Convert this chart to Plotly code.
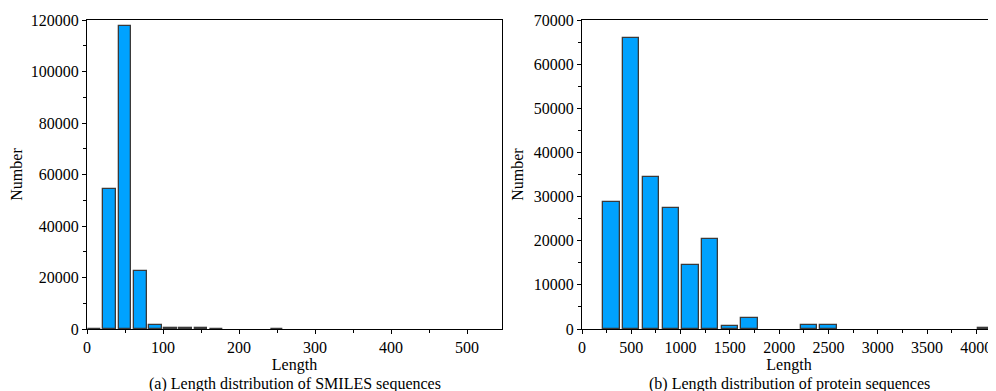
import plotly.graph_objects as go

# SMILES length distribution (bin width 20)
smiles_bins = [10, 30, 50, 70, 90, 110, 130, 150, 170, 250]
smiles_counts = [150, 54300, 117500, 22500, 1500, 400, 250, 200, 150, 60]

# Protein length distribution (bin width 200)
protein_bins = [300, 500, 700, 900, 1100, 1300, 1500, 1700, 2300, 2500, 4100]
protein_counts = [28700, 66000, 34500, 27400, 14500, 20400, 600, 2400, 900, 900, 300]

left_ticks = [0, 100, 200, 300, 400, 500]
right_ticks = [0, 500, 1000, 1500, 2000, 2500, 3000, 3500, 4000]

FILL = "#00A2FF"
EDGE = "#3a3a3a"
FONT = "'Liberation Serif', 'Times New Roman', Times, serif"

fig = go.Figure()
fig.add_trace(go.Bar(x=smiles_bins, y=smiles_counts, width=17,
                     marker=dict(color=FILL, line=dict(color=EDGE, width=1.3)),
                     xaxis="x", yaxis="y", showlegend=False))
fig.add_trace(go.Bar(x=protein_bins, y=protein_counts, width=165,
                     marker=dict(color=FILL, line=dict(color=EDGE, width=1.3)),
                     xaxis="x2", yaxis="y2", showlegend=False))

# page body has an 8px margin, so the figure is drawn 8px smaller and offset
W, H = 988, 383
OFF = 8
L1, R1 = 87 - OFF, 502 - OFF
L2, R2 = 582 - OFF, 996 - OFF

axis_common = dict(showline=True, linecolor="black", linewidth=1, ticks="outside",
                   ticklen=4, tickcolor="black", showgrid=False, zeroline=False,
                   automargin=False, ticklabeloverflow="allow",
                   tickfont=dict(family=FONT, size=16, color="black"))

fig.update_layout(
    width=W, height=H,
    margin=dict(l=0, r=0, t=12, b=62, autoexpand=False),
    plot_bgcolor="white", paper_bgcolor="white",
    font=dict(family=FONT, size=16, color="black"),
    bargap=0,
    xaxis=dict(domain=[L1 / W, R1 / W], range=[0, 546], tickvals=left_ticks,
               mirror=True, minor=dict(dtick=50, tick0=0, ticks="outside", ticklen=3, tickcolor="black"),
               title=dict(text="Length", standoff=0, font=dict(family=FONT, size=16)),
               anchor="y", **axis_common),
    yaxis=dict(domain=[0, 1], range=[0, 120000], dtick=20000, tickformat="d",
               mirror=True, minor=dict(dtick=10000, ticks="outside", ticklen=3, tickcolor="black"),
               title=dict(text="Number", standoff=6, font=dict(family=FONT, size=16)),
               anchor="x", **axis_common),
    xaxis2=dict(domain=[L2 / W, R2 / W], range=[0, 4200], tickvals=right_ticks,
                mirror=True, minor=dict(dtick=250, tick0=0, ticks="outside", ticklen=3, tickcolor="black"),
                title=dict(text="Length", standoff=0, font=dict(family=FONT, size=16)),
                anchor="y2", **axis_common),
    yaxis2=dict(domain=[0, 1], range=[0, 70000], dtick=10000, tickformat="d",
                mirror=False, minor=dict(dtick=5000, ticks="outside", ticklen=3, tickcolor="black"),
                title=dict(text="Number", standoff=6, font=dict(family=FONT, size=16)),
                anchor="x2", **axis_common),
    annotations=[
        dict(text="(a) Length distribution of SMILES sequences", x=(L1 + R1) / 2 / W, xref="paper",
             xanchor="center", y=0, yref="paper", yshift=-44, yanchor="top", showarrow=False,
             font=dict(family=FONT, size=16, color="black")),
        dict(text="(b) Length distribution of protein sequences", x=(L2 + R2) / 2 / W, xref="paper",
             xanchor="center", y=0, yref="paper", yshift=-44, yanchor="top", showarrow=False,
             font=dict(family=FONT, size=16, color="black")),
    ],
)

fig.write_html("out.html")
